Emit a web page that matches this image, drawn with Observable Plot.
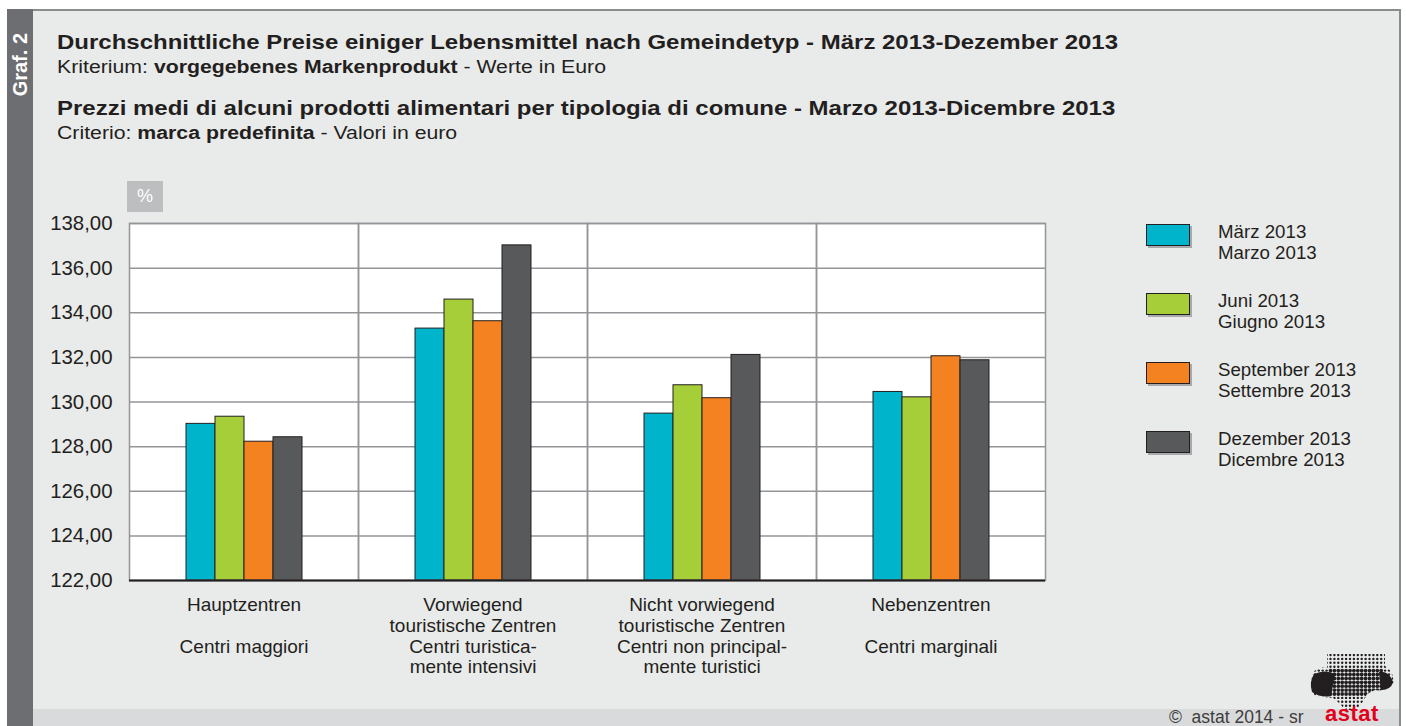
<!DOCTYPE html>
<html><head><meta charset="utf-8">
<script src="https://cdn.jsdelivr.net/npm/d3@7"></script>
<script src="https://cdn.jsdelivr.net/npm/@observablehq/plot@0.6"></script>
<style>
body{margin:0;background:#fff;font-family:"Liberation Sans",Arial,Helvetica,sans-serif;color:#231f20;}
#page{position:relative;width:1406px;height:726px;overflow:hidden;background:#fff;}
.abs{position:absolute;}
#panel{left:7px;top:9px;width:1394px;height:717px;background:#e9eaea;border-top:2px solid #8a8b8d;border-right:2px solid #8a8b8d;box-sizing:border-box;}
#strip{left:7px;top:9px;width:26px;height:717px;background:#6d6e71;}
#graf{left:7px;top:26px;width:26px;height:78px;display:flex;align-items:center;justify-content:center;}
#graf span{writing-mode:vertical-rl;transform:rotate(180deg);color:#fff;font-weight:bold;font-size:20px;white-space:nowrap;}
#footer{left:33px;top:709px;width:1366px;height:17px;background:#d9dadb;}
.t1{left:57px;font-size:20.5px;font-weight:bold;white-space:nowrap;transform:scaleX(1.17);transform-origin:0 0;}
.t2{left:57px;font-size:17.5px;white-space:nowrap;transform:scaleX(1.215);transform-origin:0 0;}
#pct{left:127px;top:181px;width:36px;height:31px;background:#bcbec0;color:#fff;font-size:18px;display:flex;align-items:center;justify-content:center;}
.sw{width:44px;height:22px;border:1px solid #231f20;box-sizing:border-box;box-shadow:2px 2px 0 #a7a9ac;}
.lt{font-size:18.7px;line-height:20.5px;white-space:nowrap;}
#copy{left:1169px;top:707px;font-size:17.5px;color:#3d3d3d;white-space:nowrap;}
#astat{left:1325px;top:701px;font-size:22px;font-weight:bold;color:#e2001a;letter-spacing:0.5px;}
</style></head>
<body><div id="page">
<div id="panel" class="abs"></div>
<div id="strip" class="abs"></div>
<div id="graf" class="abs"><span>Graf. 2</span></div>
<div id="footer" class="abs"></div>
<div class="abs t1" style="top:30px">Durchschnittliche Preise einiger Lebensmittel nach Gemeindetyp - März 2013-Dezember 2013</div>
<div class="abs t2" style="top:57px">Kriterium: <b>vorgegebenes Markenprodukt</b> - Werte in Euro</div>
<div class="abs t1" style="top:96px">Prezzi medi di alcuni prodotti alimentari per tipologia di comune - Marzo 2013-Dicembre 2013</div>
<div class="abs t2" style="top:123px">Criterio: <b>marca predefinita</b> - Valori in euro</div>
<div id="pct" class="abs">%</div>
<div id="chart" class="abs" style="left:0;top:190px;"></div>
<div id="legend"></div>
<div id="copy" class="abs">©&nbsp; astat 2014 - sr</div>
<svg class="abs" style="left:1305px;top:652px" width="95" height="58" id="logo"></svg>
<div id="astat" class="abs">astat</div>
</div>
<script>
const categories = ["Hauptzentren", "Vorwiegend touristische Zentren", "Nicht vorwiegend touristische Zentren", "Nebenzentren"];
const categoryLabels = [
  "Hauptzentren\n\nCentri maggiori",
  "Vorwiegend\ntouristische Zentren\nCentri turistica-\nmente intensivi",
  "Nicht vorwiegend\ntouristische Zentren\nCentri non principal-\nmente turistici",
  "Nebenzentren\n\nCentri marginali"
];
const seriesDe = ["März 2013", "Juni 2013", "September 2013", "Dezember 2013"];
const seriesIt = ["Marzo 2013", "Giugno 2013", "Settembre 2013", "Dicembre 2013"];
const seriesColors = ["#00b5cb", "#a6ce39", "#f58220", "#58595b"];
const valuesMarch = [129.02, 133.29, 129.48, 130.45];
const valuesJune = [129.34, 134.59, 130.75, 130.21];
const valuesSeptember = [128.22, 133.62, 130.17, 132.05];
const valuesDecember = [128.42, 137.02, 132.11, 131.87];
const yTicks = [122, 124, 126, 128, 130, 132, 134, 136, 138];

const seriesValues = [valuesMarch, valuesJune, valuesSeptember, valuesDecember];
const data = [];
categories.forEach((c, i) => seriesDe.forEach((s, j) => data.push({cat: c, series: s, value: seriesValues[j][i]})));

const chart = Plot.plot({
  width: 1060, height: 540,
  marginTop: 33, marginBottom: 150, marginLeft: 127, marginRight: 14,
  style: {background: "transparent", fontFamily: '"Liberation Sans", Arial, sans-serif', color: "#231f20", overflow: "visible"},
  fx: {domain: categories, padding: 0, label: null},
  x: {domain: seriesDe, paddingInner: 0, paddingOuter: 1.9, axis: null},
  y: {domain: [122, 138], label: null},
  color: {domain: seriesDe, range: seriesColors},
  marks: [
    Plot.frame({fill: "white", stroke: "none"}),
    Plot.gridY(yTicks, {stroke: "#939598", strokeOpacity: 1, strokeWidth: 1.5}),
    Plot.barY(data, {fx: "cat", x: "series", y1: 122, y2: "value", fill: "series", stroke: "#231f20", strokeWidth: 1}),
    Plot.frame({stroke: "#939598", strokeWidth: 1.5}),
    Plot.ruleY([122], {stroke: "#231f20", strokeWidth: 2}),
    Plot.axisY(yTicks, {tickSize: 0, tickPadding: 17, fontSize: 20.4, fill: "#231f20", tickFormat: d => d.toFixed(2).replace(".", ",")}),
    Plot.axisFx({anchor: "bottom", tickSize: 0, tickPadding: 16, fontSize: 19, lineHeight: 1.09, fill: "#231f20", label: null,
      tickFormat: d => categoryLabels[categories.indexOf(d)]})
  ]
});
document.getElementById("chart").appendChild(chart);

// legend
const legend = document.getElementById("legend");
seriesDe.forEach((s, j) => {
  const top = 224 + j * 69;
  const sw = document.createElement("div");
  sw.className = "abs sw";
  sw.style.left = "1146px"; sw.style.top = top + "px"; sw.style.background = seriesColors[j];
  legend.appendChild(sw);
  const t = document.createElement("div");
  t.className = "abs lt";
  t.style.left = "1218px"; t.style.top = (top - 2) + "px";
  t.innerHTML = s + "<br>" + seriesIt[j];
  legend.appendChild(t);
});

// decorative logo (dot map)
const ns = "http://www.w3.org/2000/svg";
const logo = document.getElementById("logo");
const defs = document.createElementNS(ns, "defs");
defs.innerHTML = '<clipPath id="lc"><path d="M22 2 H80 V14 Q90 20 88 32 Q80 40 70 38 L62 42 Q58 52 50 58 L40 58 Q34 50 28 46 L10 44 Q4 34 8 20 Q16 14 22 16 Z"/></clipPath>';
logo.appendChild(defs);
const blob = document.createElementNS(ns, "path");
blob.setAttribute("d", "M9 22 Q4 30 7 40 Q16 46 26 44 L30 22 Q20 17 9 22 Z M74 20 Q84 18 88 30 Q86 38 76 38 Z");
blob.setAttribute("fill", "#231f20");
logo.appendChild(blob);
const g = document.createElementNS(ns, "g");
g.setAttribute("clip-path", "url(#lc)");
for (let r = 0; r < 15; r++) for (let c = 0; c < 22; c++) {
  const dot = document.createElementNS(ns, "circle");
  dot.setAttribute("cx", 6 + c * 3.9); dot.setAttribute("cy", 3 + r * 3.9);
  dot.setAttribute("r", (r > 3 && r < 11 && c > 4 && c < 19) ? 1.9 : 1.2);
  dot.setAttribute("fill", "#231f20");
  g.appendChild(dot);
}
logo.appendChild(g);
</script>
</body></html>
